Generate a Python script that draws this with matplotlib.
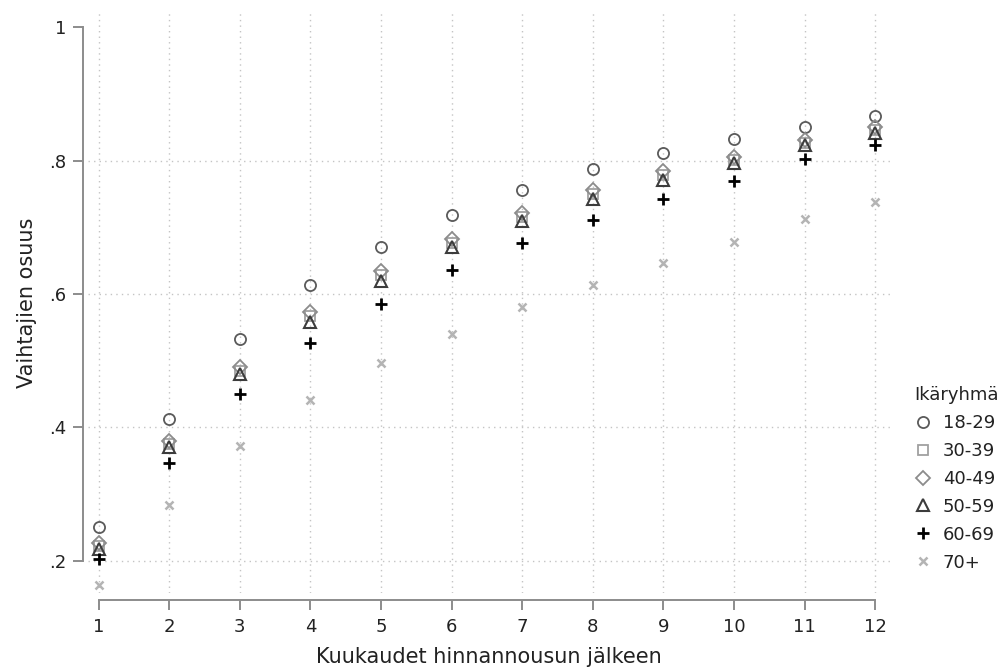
import matplotlib
matplotlib.use("Agg")
import matplotlib.pyplot as plt
from matplotlib.ticker import FixedLocator

plt.rcParams['font.family'] = ['DejaVu Sans']

# kuukaudet hinnannousun jälkeen ja vaihtajien osuus ikäryhmittäin
kuukaudet = [1, 2, 3, 4, 5, 6, 7, 8, 9, 10, 11, 12]
ryhma_18_29 = [0.251, 0.412, 0.532, 0.614, 0.671, 0.719, 0.756, 0.788, 0.812, 0.832, 0.851, 0.867]
ryhma_30_39 = [0.222, 0.375, 0.485, 0.567, 0.628, 0.677, 0.716, 0.750, 0.778, 0.801, 0.826, 0.846]
ryhma_40_49 = [0.227, 0.380, 0.490, 0.573, 0.634, 0.683, 0.722, 0.756, 0.784, 0.806, 0.831, 0.851]
ryhma_50_59 = [0.217, 0.370, 0.480, 0.558, 0.619, 0.670, 0.710, 0.742, 0.771, 0.796, 0.823, 0.842]
ryhma_60_69 = [0.203, 0.346, 0.450, 0.526, 0.585, 0.636, 0.677, 0.711, 0.742, 0.770, 0.802, 0.824]
ryhma_70 = [0.164, 0.283, 0.372, 0.441, 0.496, 0.540, 0.580, 0.614, 0.646, 0.678, 0.712, 0.738]

y_tikit = [0.2, 0.4, 0.6, 0.8, 1.0]
y_tikkitekstit = ['.2', '.4', '.6', '.8', '1']

sarjat = [
    ('18-29', ryhma_18_29, 'o', '#5a5a5a', 'none', 8, 1.3),
    ('30-39', ryhma_30_39, 's', '#a0a0a0', 'none', 7.5, 1.3),
    ('40-49', ryhma_40_49, 'D', '#8c8c8c', 'none', 7.5, 1.3),
    ('50-59', ryhma_50_59, '^', '#3c3c3c', 'none', 8, 1.5),
    ('60-69', ryhma_60_69, 'P', '#000000', '#000000', 0, 0),
    ('70+', ryhma_70, 'x', '#b4b4b4', 'none', 6, 1.8),
]

fig = plt.figure(figsize=(10.06, 6.70), dpi=100)
ax = fig.add_axes([88 / 1006, 1 - 593 / 670, (890 - 88) / 1006, (593 - 13) / 670])

for nimi, arvot, merkki, vari, tayte, koko, paksuus in sarjat:
    if merkki == 'P':
        ax.plot(kuukaudet, arvot, linestyle='none', marker='+', color=vari,
                markersize=8, markeredgewidth=2, label=nimi, zorder=3)
    else:
        ax.plot(kuukaudet, arvot, linestyle='none', marker=merkki, color=vari,
                markerfacecolor=tayte, markeredgecolor=vari, markersize=koko,
                markeredgewidth=paksuus, label=nimi, zorder=3)

ax.set_xlim(0.848, 12.21)
ax.set_ylim(0.1515, 1.0216)

ax.xaxis.set_major_locator(FixedLocator(kuukaudet))
ax.set_xticklabels([str(k) for k in kuukaudet])
ax.yaxis.set_major_locator(FixedLocator(y_tikit))
ax.set_yticklabels(y_tikkitekstit)

# pisteviivaruudukko: pystyviivat joka kuukaudelle, vaakaviivat ilman ylintä
ax.grid(True, axis='x', linestyle=(0, (1, 3)), color='#c4c4c4', linewidth=1)
for y in y_tikit[:-1]:
    ax.axhline(y, linestyle=(0, (1, 3)), color='#c4c4c4', linewidth=1, zorder=0.5)
ax.set_axisbelow(True)

for puoli in ['top', 'right']:
    ax.spines[puoli].set_visible(False)
ax.spines['left'].set_position(('outward', 3.6))
ax.spines['bottom'].set_position(('outward', 5))
ax.spines['left'].set_bounds(0.2, 1.0)
ax.spines['bottom'].set_bounds(1, 12)
for puoli in ['left', 'bottom']:
    ax.spines[puoli].set_color('#8c8c8c')
    ax.spines[puoli].set_linewidth(1.4)

ax.tick_params(axis='both', colors='#8c8c8c', length=7, width=1.4, labelsize=13,
               labelcolor='#222222')
ax.tick_params(axis='y', pad=5)
ax.tick_params(axis='x', pad=6)

ax.set_xlabel('Kuukaudet hinnannousun jälkeen', fontsize=15, color='#222222', labelpad=8)
ax.set_ylabel('Vaihtajien osuus', fontsize=15, color='#222222', labelpad=9)

selite = fig.legend(loc='upper left', bbox_to_anchor=(905 / 1006, 1 - 377 / 670),
                    frameon=False, title='Ikäryhmä', fontsize=13, title_fontsize=13,
                    handlelength=1.0, handletextpad=0.6, labelspacing=0.55,
                    borderpad=0, alignment='left')
for teksti in selite.get_texts():
    teksti.set_color('#222222')
selite.get_title().set_color('#222222')

fig.savefig('out.png', dpi=100)
